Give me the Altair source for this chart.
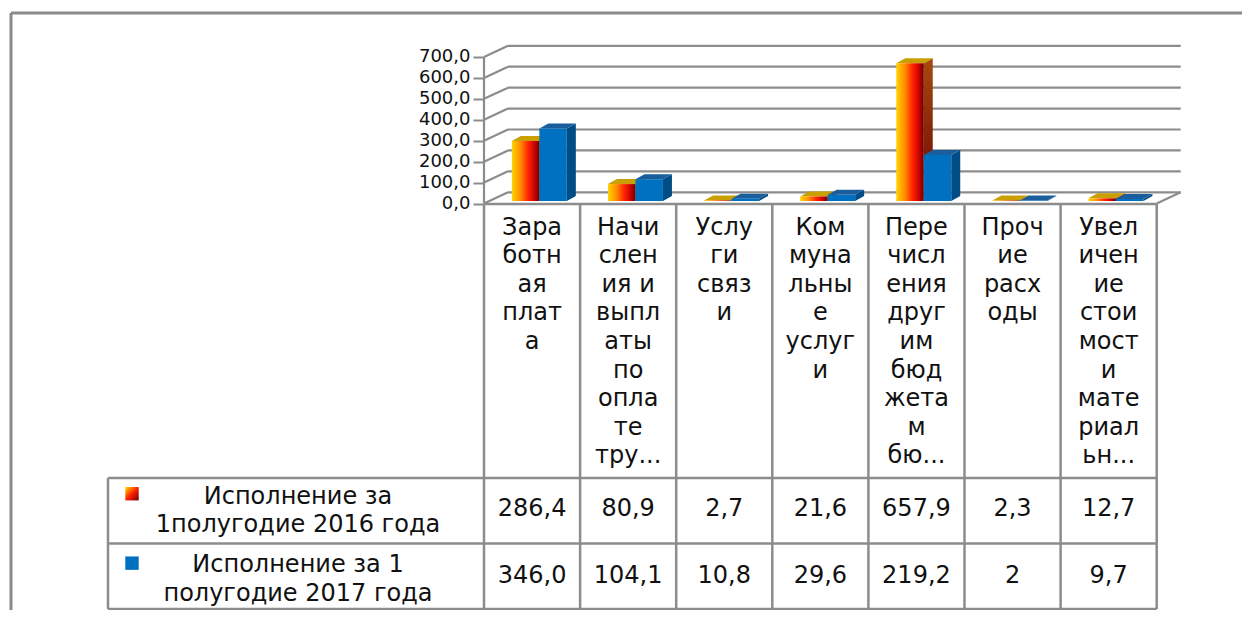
import altair as alt
import pandas as pd

# ---------------- data ----------------
categories = [
    "Зара\nботн\nая\nплат\nа",
    "Начи\nслен\nия и\nвыпл\nаты\nпо\nопла\nте\nтру...",
    "Услу\nги\nсвяз\nи",
    "Ком\nмуна\nльны\nе\nуслуг\nи",
    "Пере\nчисл\nения\nдруг\nим\nбюд\nжета\nм\nбю...",
    "Проч\nие\nрасх\nоды",
    "Увел\nичен\nие\nстои\nмост\nи\nмате\nриал\nьн...",
]
series_names = ["Исполнение за\n1полугодие 2016 года", "Исполнение за 1\nполугодие 2017 года"]
values_2016 = [286.4, 80.9, 2.7, 21.6, 657.9, 2.3, 12.7]
values_2017 = [346.0, 104.1, 10.8, 29.6, 219.2, 2.0, 9.7]
labels_2016 = ["286,4", "80,9", "2,7", "21,6", "657,9", "2,3", "12,7"]
labels_2017 = ["346,0", "104,1", "10,8", "29,6", "219,2", "2", "9,7"]
y_ticks = [0, 100, 200, 300, 400, 500, 600, 700]

# ---------------- geometry / style ----------------
W, H = 1234, 602
COL_PX = 96.1          # width of one category column
COL0_PX = 476.0        # left edge of the first column
K = 0.2093             # px per value unit
ZERO_PX = 195.5        # front-plane zero
ROW_PX = 65.5          # table row height
TABLE_TOP_PX = 196.0
HEADER_H = 274.0 / ROW_PX

X_DOM = [-COL0_PX / COL_PX, (W - COL0_PX) / COL_PX]
V_DOM = [-(H - ZERO_PX) / K, ZERO_PX / K]
T_DOM = [-TABLE_TOP_PX / ROW_PX, (H - TABLE_TOP_PX) / ROW_PX]

BACK_DX = 24 / COL_PX
BACK_DV = 11.2 / K
BAR_DV = 2.5 / K
DEPTH_DX = 9 / COL_PX
DEPTH_DV = 5 / K
BAR_LEFT = [0.29, 0.576]
BAR_W = 0.286
TABLE_LEFT = (100 - COL0_PX) / COL_PX
FRAME_X = (3 - COL0_PX) / COL_PX
FRAME_T = (5 - TABLE_TOP_PX) / ROW_PX
SWATCH_X = (124 - COL0_PX) / COL_PX
ROW1 = HEADER_H
ROW2 = HEADER_H + 1
ROW_END = HEADER_H + 2
n = len(categories)

FONT = "DejaVu Sans"
TXT = "#111111"
GRID = "#8c8c8c"

xs = alt.Scale(domain=X_DOM, nice=False, zero=False)
vs = alt.Scale(domain=V_DOM, nice=False, zero=False)
ts = alt.Scale(domain=T_DOM, nice=False, zero=False, reverse=True)

y_axis = alt.Axis(
    values=y_ticks, offset=-COL0_PX,
    labelExpr="replace(format(datum.value, '.1f'), '.', ',')",
    labelFont=FONT, labelFontSize=18, labelColor=TXT, labelPadding=3,
    tickSize=11, tickColor=GRID, tickWidth=2, domain=False, grid=False,
    title=None, labelOverlap=False,
)


def X(f):
    return alt.X(f"{f}:Q", scale=xs, axis=None)


def V(f):
    return alt.Y(f"{f}:Q", scale=vs, axis=y_axis, stack=None)


def T(f):
    return alt.Y(f"{f}:Q", scale=ts, axis=None)


def grad(stops, x2=1, y2=0):
    return {
        "gradient": "linear", "x1": 0, "y1": 0, "x2": x2, "y2": y2,
        "stops": [{"offset": o, "color": c} for o, c in stops],
    }


ORANGE_FRONT = grad([(0, "#ffd400"), (0.3, "#ff9000"), (0.6, "#ff2200"), (0.85, "#c00000"), (1, "#6e0000")])
ORANGE_SIDE = grad([(0, "#a84a10"), (1, "#6a0600")], x2=0, y2=1)
ORANGE_TOP = "#c9a000"
BLUE_FRONT = "#0070c0"
BLUE_SIDE = "#004c85"
BLUE_TOP = "#1a5e9e"
ORANGE_SWATCH = grad([(0, "#ffe000"), (0.5, "#ff2000"), (1, "#700000")], x2=1, y2=1)

# ---------------- value plane (bars, walls) ----------------
df_grid = pd.DataFrame({"v": [t + BACK_DV for t in y_ticks], "x": BACK_DX, "x2": n + BACK_DX})
grid = alt.Chart(df_grid).mark_rule(color=GRID, strokeWidth=2.2).encode(
    x=X("x"), x2="x2", y=V("v"))

diag_rows = []
for t in y_ticks:
    diag_rows.append({"g": f"t{t}", "x": 0.0, "v": float(t)})
    diag_rows.append({"g": f"t{t}", "x": BACK_DX, "v": t + BACK_DV})
diag_rows.append({"g": "floor", "x": float(n), "v": 0.0})
diag_rows.append({"g": "floor", "x": n + BACK_DX, "v": BACK_DV})
diag = alt.Chart(pd.DataFrame(diag_rows)).mark_line(color=GRID, strokeWidth=2.2).encode(
    x=X("x"), y=V("v"), detail="g:N")

axis_line = alt.Chart(pd.DataFrame({"x": [0.0], "v": [0.0], "v2": [float(y_ticks[-1])]})).mark_rule(
    color=GRID, strokeWidth=2.2).encode(x=X("x"), y=V("v"), y2="v2")


def bar_layers(values, si, front, side, top):
    fr, sd, tp = [], [], []
    for i, val in enumerate(values):
        L = i + BAR_LEFT[si]
        R = L + BAR_W
        tv = val + BAR_DV
        b = BAR_DV
        fr.append({"x": L, "x2": R, "v": tv, "v2": b})
        sd += [{"g": i, "x": R, "v": tv, "v2": b},
               {"g": i, "x": R + DEPTH_DX, "v": tv + DEPTH_DV, "v2": b + DEPTH_DV}]
        tp += [{"g": i, "x": L, "v": tv, "v2": tv},
               {"g": i, "x": L + DEPTH_DX, "v": tv, "v2": tv + DEPTH_DV},
               {"g": i, "x": R, "v": tv, "v2": tv + DEPTH_DV},
               {"g": i, "x": R + DEPTH_DX, "v": tv + DEPTH_DV, "v2": tv + DEPTH_DV}]
    side_l = alt.Chart(pd.DataFrame(sd)).mark_area(fill=side, orient="vertical", opacity=1).encode(
        x=X("x"), y=V("v"), y2="v2", detail="g:N")
    top_l = alt.Chart(pd.DataFrame(tp)).mark_area(fill=top, orient="vertical", opacity=1).encode(
        x=X("x"), y=V("v"), y2="v2", detail="g:N")
    front_l = alt.Chart(pd.DataFrame(fr)).mark_bar(fill=front, opacity=1).encode(
        x=X("x"), x2="x2", y=V("v"), y2="v2")
    return [side_l, top_l, front_l]


value_group = alt.layer(
    grid, diag, axis_line,
    *bar_layers(values_2016, 0, ORANGE_FRONT, ORANGE_SIDE, ORANGE_TOP),
    *bar_layers(values_2017, 1, BLUE_FRONT, BLUE_SIDE, BLUE_TOP),
)

# ---------------- table ----------------
frame_h = alt.Chart(pd.DataFrame({"x": [FRAME_X], "x2": [X_DOM[1]], "t": [FRAME_T]})).mark_rule(
    color="#8a8a8a", strokeWidth=3).encode(x=X("x"), x2="x2", y=T("t"))
frame_v = alt.Chart(pd.DataFrame({"x": [FRAME_X], "t": [FRAME_T], "t2": [T_DOM[1]]})).mark_rule(
    color="#8a8a8a", strokeWidth=3).encode(x=X("x"), y=T("t"), y2="t2")

h_lines = pd.DataFrame({
    "x": [0.0, TABLE_LEFT, TABLE_LEFT, TABLE_LEFT],
    "x2": [float(n)] * 4,
    "t": [0.0, ROW1, ROW2, ROW_END],
})
v_lines = pd.DataFrame({
    "x": [TABLE_LEFT] + [float(i) for i in range(n + 1)],
    "t": [ROW1] + [0.0] * (n + 1),
    "t2": [ROW_END] * (n + 2),
})
hl = alt.Chart(h_lines).mark_rule(color=GRID, strokeWidth=2.5).encode(x=X("x"), x2="x2", y=T("t"))
vl = alt.Chart(v_lines).mark_rule(color=GRID, strokeWidth=2.5).encode(x=X("x"), y=T("t"), y2="t2")

df_cat = pd.DataFrame({"x": [i + 0.5 for i in range(n)], "t": 0.176, "label": categories})
cat_text = alt.Chart(df_cat).mark_text(
    align="center", baseline="top", lineBreak="\n", lineHeight=28.6,
    font=FONT, fontSize=24, color=TXT).encode(x=X("x"), y=T("t"), text="label:N")

num_rows = []
for i in range(n):
    num_rows.append({"x": i + 0.5, "t": ROW1 + 0.47, "label": labels_2016[i]})
    num_rows.append({"x": i + 0.5, "t": ROW2 + 0.5, "label": labels_2017[i]})
num_text = alt.Chart(pd.DataFrame(num_rows)).mark_text(
    align="center", baseline="middle", font=FONT, fontSize=24, color=TXT).encode(
    x=X("x"), y=T("t"), text="label:N")

rh_x = (290 - COL0_PX) / COL_PX
df_rh = pd.DataFrame({"x": [rh_x, rh_x], "t": [ROW1 + 0.10, ROW2 + 0.15], "label": series_names})
rh_text = alt.Chart(df_rh).mark_text(
    align="center", baseline="top", lineBreak="\n", lineHeight=28.5,
    font=FONT, fontSize=24, color=TXT).encode(x=X("x"), y=T("t"), text="label:N")

sw1 = alt.Chart(pd.DataFrame({"x": [SWATCH_X], "t": [ROW1 + 0.24]})).mark_square(
    size=180, fill=ORANGE_SWATCH, filled=True, opacity=1, strokeWidth=0).encode(x=X("x"), y=T("t"))
sw2 = alt.Chart(pd.DataFrame({"x": [SWATCH_X], "t": [ROW2 + 0.3]})).mark_square(
    size=180, fill=BLUE_FRONT, filled=True, opacity=1, strokeWidth=0).encode(x=X("x"), y=T("t"))

table_group = alt.layer(frame_h, frame_v, hl, vl, cat_text, num_text, rh_text, sw1, sw2)

chart = alt.layer(value_group, table_group).resolve_scale(y="independent").properties(
    width=W, height=H, autosize=alt.AutoSizeParams(type="none"), padding=0,
    background="white",
).configure_view(strokeWidth=0)

chart.save("out.html", embed_options={"renderer": "svg", "actions": False})
